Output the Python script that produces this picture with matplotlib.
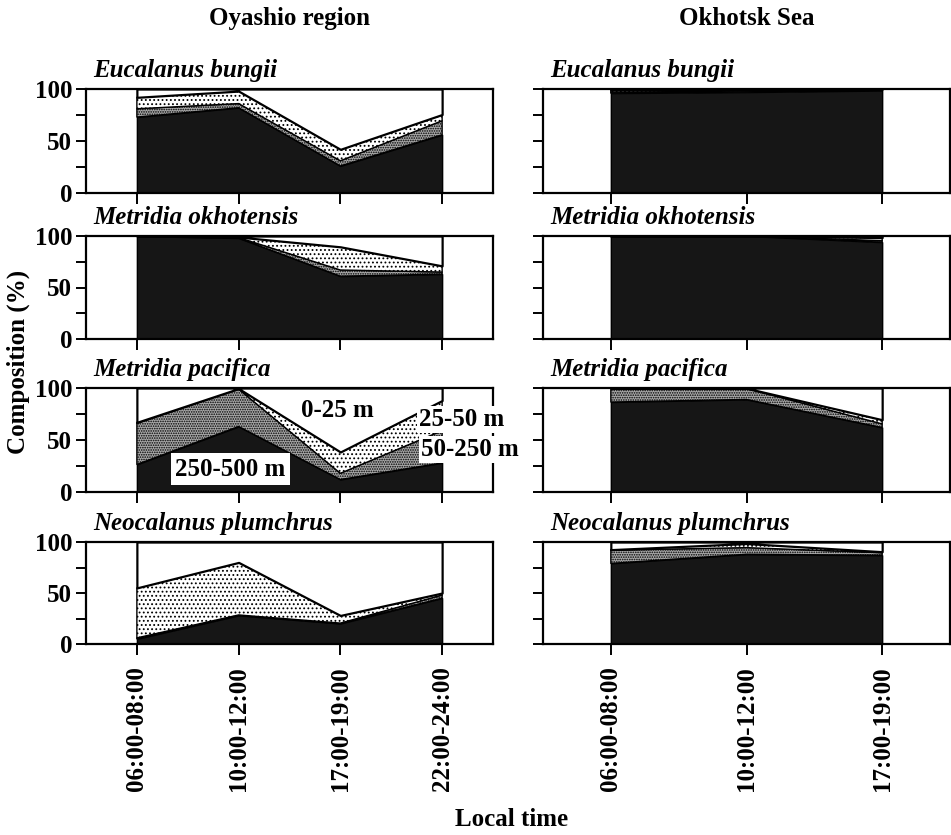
import matplotlib
matplotlib.use("Agg")
import matplotlib.pyplot as plt

plt.rcParams['font.family'] = ['Liberation Serif', 'DejaVu Serif']
plt.rcParams['font.weight'] = 'bold'
plt.rcParams['font.size'] = 18
plt.rcParams['axes.linewidth'] = 1.6
plt.rcParams['hatch.linewidth'] = 0.8

# Time windows for each region
oyashio_times = ["06:00-08:00", "10:00-12:00", "17:00-19:00", "22:00-24:00"]
okhotsk_times = ["06:00-08:00", "10:00-12:00", "17:00-19:00"]

species = ["Eucalanus bungii", "Metridia okhotensis",
           "Metridia pacifica", "Neocalanus plumchrus"]
depths = ["250-500 m", "50-250 m", "25-50 m", "0-25 m"]

# Composition (%) per depth layer, bottom layer first: 250-500, 50-250, 25-50, 0-25 m
oyashio_eb = [[73, 82, 26, 56], [8, 4, 5, 13.5], [11, 12, 11, 6], [8, 2, 58, 24.5]]
oyashio_mo = [[100, 98, 61, 63], [0, 0.5, 6, 2], [0, 0.5, 22.5, 6], [0, 1, 10.5, 29]]
oyashio_mp = [[26.5, 63, 12, 28], [39.5, 36, 6, 31], [1, 0.5, 20.5, 29], [33, 0.5, 61.5, 12]]
oyashio_np = [[5, 28, 20, 45], [1, 0.5, 0.5, 3], [49, 51.5, 7.5, 2], [45, 20, 72, 50]]

okhotsk_eb = [[96, 97, 98.5], [1, 1, 0.5], [2, 1.5, 0.5], [1, 0.5, 0.5]]
okhotsk_mo = [[100, 100, 94], [0, 0, 1.5], [0, 0, 3], [0, 0, 1.5]]
okhotsk_mp = [[86.5, 89, 62], [13.5, 10.5, 3.5], [0, 0.3, 4], [0, 0.2, 30.5]]
okhotsk_np = [[79, 88, 87], [13, 6.5, 2.5], [0.5, 4, 1], [7.5, 1.5, 9.5]]

oyashio = [oyashio_eb, oyashio_mo, oyashio_mp, oyashio_np]
okhotsk = [okhotsk_eb, okhotsk_mo, okhotsk_mp, okhotsk_np]

W, H = 951, 835
fig = plt.figure(figsize=(W / 100, H / 100), dpi=100)

# panel rows in pixels (top, bottom)
rows = [(89, 193), (236, 339), (388, 492), (542, 644)]
cols = [(86, 493), (543, 950)]

layer_colors = ['#161616', '#a9a9a9', 'white', 'white']
layer_hatch = [None, '.......', '....', None]


def draw_panel(ax, times, layers, name, first_col, bottom_row):
    x = list(range(len(times)))
    polys = ax.stackplot(x, *layers, colors=layer_colors,
                         edgecolor='black', linewidth=1.0)
    for p, h in zip(polys, layer_hatch):
        if h:
            p.set_hatch(h)
    # heavier outline between the surface layer and the rest
    polys[3].set_linewidth(1.6)
    ax.set_xlim(-0.5, len(times) - 0.5)
    ax.set_ylim(0, 100)
    ax.set_xticks(x)
    ax.set_yticks([0, 25, 50, 75, 100])
    ax.tick_params(direction='out', length=7, width=1.4, pad=3)
    ax.tick_params(axis='x', length=8, pad=8)
    if first_col:
        ax.set_yticklabels(['0', '', '50', '', '100'])
    else:
        ax.set_yticklabels([])
    if bottom_row:
        ax.set_xticklabels(times, rotation=90)
    else:
        ax.set_xticklabels([])
    ax.text(7 / 407, 1.115, name, transform=ax.transAxes, style='italic',
            fontsize=18, va='baseline', ha='left')


axes = {}
for ci, (region, times) in enumerate([(oyashio, oyashio_times), (okhotsk, okhotsk_times)]):
    l, r = cols[ci]
    for ri, (t, b) in enumerate(rows):
        ax = fig.add_axes([l / W, 1 - b / H, (r - l) / W, (b - t) / H])
        draw_panel(ax, times, region[ri], species[ri], ci == 0, ri == 3)
        axes[(ri, ci)] = ax

# depth layer labels in the Oyashio M. pacifica panel
ax = axes[(2, 0)]
box = dict(facecolor='white', edgecolor='none', pad=1.5)
ax.text(1.97, 78, depths[3], ha='center', va='center', fontsize=18)
ax.text(3.19, 70, depths[2], ha='center', va='center', fontsize=18,
        bbox=box, clip_on=False, zorder=5)
ax.text(3.27, 41, depths[1], ha='center', va='center', fontsize=18,
        bbox=box, clip_on=False, zorder=5)
ax.text(0.92, 22, depths[0], ha='center', va='center', fontsize=18,
        bbox=dict(facecolor='white', edgecolor='none', pad=3), zorder=5)

fig.text(289.5 / W, 1 - 25 / H, "Oyashio region", ha='center', va='baseline')
fig.text(746.5 / W, 1 - 25 / H, "Okhotsk Sea", ha='center', va='baseline')
fig.text(18 / W, 1 - 362 / H, "Composition (%)", rotation=90,
         ha='center', va='center')
fig.text(512 / W, 1 - 826 / H, "Local time", ha='center', va='baseline')

fig.savefig("out.png", dpi=100)
